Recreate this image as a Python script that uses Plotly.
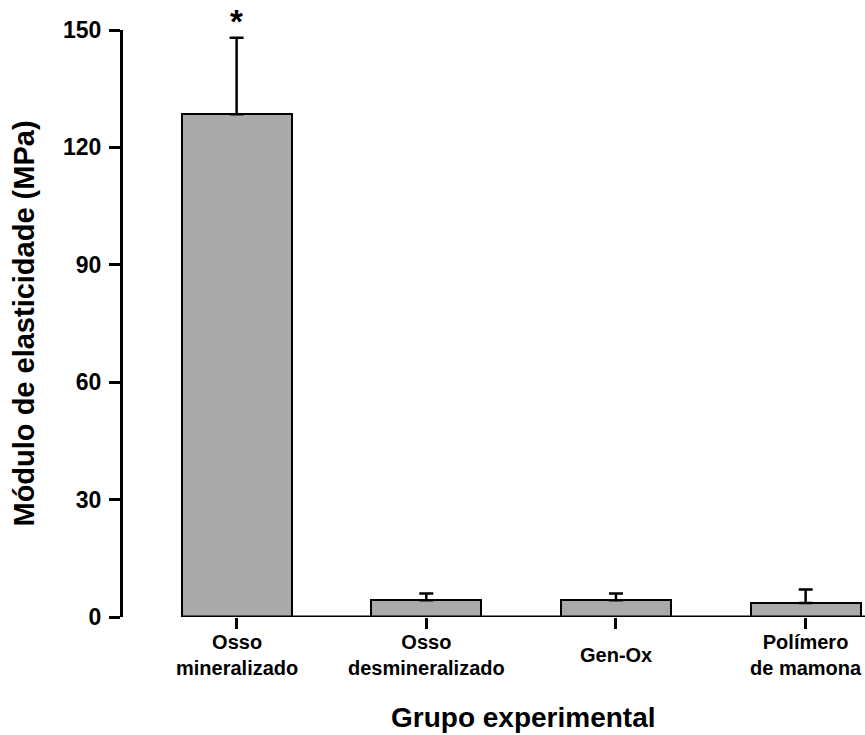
import plotly.graph_objects as go

categories = ["Osso<br>mineralizado", "Osso<br>desmineralizado", "Gen-Ox", "Polímero<br>de mamona"]
means = [128.5, 4.3, 4.3, 3.6]
sd_upper = [19.5, 1.7, 1.7, 3.4]
y_ticks = [0, 30, 60, 90, 120, 150]
significance = ["*", "", "", ""]
x_title = "Grupo experimental"
y_title = "Módulo de elasticidade (MPa)"

FONT = "Liberation Sans, Arial, Helvetica, sans-serif"
x_pos = list(range(len(categories)))

fig = go.Figure()
fig.add_trace(go.Bar(
    x=x_pos, y=means, width=0.58,
    marker=dict(color="#aaaaaa", line=dict(color="black", width=2)),
    error_y=dict(type="data", symmetric=False, array=sd_upper,
                 arrayminus=[0] * len(means), color="black", thickness=2.5, width=7),
    showlegend=False, hoverinfo="skip",
))

x_range = [-0.599, 3.313]
bar_left = -0.29

# x axis baseline starting at left edge of first bar
fig.add_shape(type="line", xref="x", yref="y", x0=bar_left, x1=x_range[1], y0=0, y1=0,
              line=dict(color="black", width=3), layer="above")

# category labels
for xp, lab in zip(x_pos, categories):
    fig.add_annotation(x=xp, xref="x", y=0, yref="paper", yshift=-38, yanchor="middle",
                       text="<b>" + lab + "</b>", showarrow=False,
                       font=dict(family=FONT, size=20, color="black"), align="center")

# significance marks
for xp, m, s, mark in zip(x_pos, means, sd_upper, significance):
    if mark:
        fig.add_annotation(x=xp, y=m + s, yanchor="bottom", text="<b>" + mark + "</b>",
                           showarrow=False, yshift=-4,
                           font=dict(family=FONT, size=33, color="black"))

# axis titles
fig.add_annotation(x=(bar_left + x_range[1]) / 2, xref="x", y=0, yref="paper", yshift=-100,
                   yanchor="middle", text="<b>" + x_title + "</b>", showarrow=False,
                   font=dict(family=FONT, size=28, color="black"))
fig.add_annotation(x=0, xref="paper", xshift=-100, xanchor="center", y=0.5, yref="paper",
                   yanchor="middle", textangle=-90, text="<b>" + y_title + "</b>",
                   showarrow=False, font=dict(family=FONT, size=29, color="black"))

fig.update_layout(
    width=865, height=735,
    margin=dict(l=123, r=0, t=30, b=118, autoexpand=False),
    plot_bgcolor="white", paper_bgcolor="white",
    font=dict(family=FONT, color="black"),
    bargap=0,
)
fig.update_xaxes(range=x_range, tickvals=x_pos, ticktext=[""] * len(x_pos),
                 ticks="outside", ticklen=11, tickwidth=2.5, tickcolor="black",
                 showline=False, showgrid=False, zeroline=False, automargin=False)
fig.update_yaxes(range=[0, 150], tickvals=y_ticks,
                 ticktext=["<b>%d</b>" % v for v in y_ticks],
                 ticks="outside", ticklen=11, tickwidth=3, ticklabelstandoff=3,
                 tickcolor="black", showline=True, linewidth=3, linecolor="black",
                 showgrid=False, zeroline=False, automargin=False,
                 tickfont=dict(family=FONT, size=23, color="black"))

fig.write_html("out.html", config={"displayModeBar": False},
               post_script="document.body.style.margin='0';")
